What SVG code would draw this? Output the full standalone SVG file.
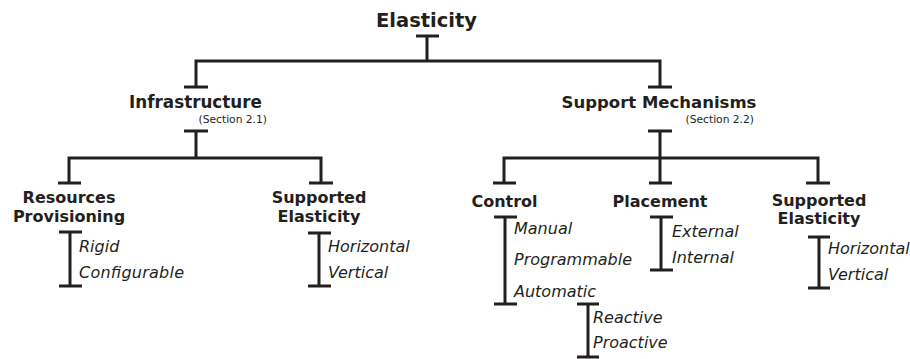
<svg xmlns="http://www.w3.org/2000/svg" width="910" height="359" viewBox="0 0 910 359">
<style>
.c{fill:none;stroke:#231f20;stroke-width:3}
text{fill:#231f20;font-family:"DejaVu Sans",sans-serif}
.t0{font-weight:bold;font-size:19.5px;text-anchor:middle}
.t1{font-weight:bold;font-size:16.5px;text-anchor:middle}
.t2{font-weight:bold;font-size:16px;text-anchor:middle}
.sec{font-size:10.7px;text-anchor:end}
.it{font-style:italic;font-size:16px}
</style>
<rect width="910" height="359" fill="#fff"/>
<g id="connectors" class="c">
<path d="M416,36H439M427,36V61M194.5,61H661.5M196,61V87M184,87H208M660,61V87M648,87H672"/>
<path d="M184,131H208M196,131V158M67.5,158H322.5M69,158V183M321,158V183M58,183H81M309,183H333"/>
<path d="M648,131H672M660,131V158M502.5,158H819.5M504,158V183M660,158V183M818,158V183M493,183H516M649,183H672M806,183H830"/>
<path d="M59,232H82M70,232V286M59,286H82"/>
<path d="M308,233H331M319,233V286M308,286H331"/>
<path d="M494,217H517M505,217V304M494,304H517"/>
<path d="M577,304H599M588,304V357M577,357H599"/>
<path d="M650,217H673M661,217V270M650,270H673"/>
<path d="M808,237H830M819,237V288M808,288H830"/>
</g>
<g id="elasticity"><text class="t0" x="426.5" y="27">Elasticity</text></g>
<g id="infrastructure"><text class="t1" x="195.5" y="108" style="font-size:16.8px">Infrastructure</text><text class="sec" x="267" y="123">(Section 2.1)</text></g>
<g id="support"><text class="t1" x="659" y="108">Support Mechanisms</text><text class="sec" x="754" y="123">(Section 2.2)</text></g>
<g id="resources"><text class="t2" x="69" y="203">Resources</text><text class="t2" x="69" y="222">Provisioning</text></g>
<g id="resources-items"><text class="it" x="79" y="252">Rigid</text><text class="it" x="79" y="278" textLength="105">Configurable</text></g>
<g id="supported-infra"><text class="t2" x="319" y="203">Supported</text><text class="t2" x="319" y="222">Elasticity</text></g>
<g id="supported-infra-items"><text class="it" x="328" y="252">Horizontal</text><text class="it" x="328" y="278">Vertical</text></g>
<g id="control"><text class="t2" x="504.5" y="207">Control</text></g>
<g id="control-items"><text class="it" x="514" y="234">Manual</text><text class="it" x="514" y="265">Programmable</text><text class="it" x="514" y="297">Automatic</text></g>
<g id="automatic-items"><text class="it" x="593" y="323">Reactive</text><text class="it" x="593" y="348">Proactive</text></g>
<g id="placement"><text class="t2" x="660" y="207">Placement</text></g>
<g id="placement-items"><text class="it" x="672" y="237">External</text><text class="it" x="672" y="263">Internal</text></g>
<g id="supported-mech"><text class="t2" x="819" y="206">Supported</text><text class="t2" x="819" y="224">Elasticity</text></g>
<g id="supported-mech-items"><text class="it" x="828" y="254">Horizontal</text><text class="it" x="828" y="280">Vertical</text></g>
</svg>
